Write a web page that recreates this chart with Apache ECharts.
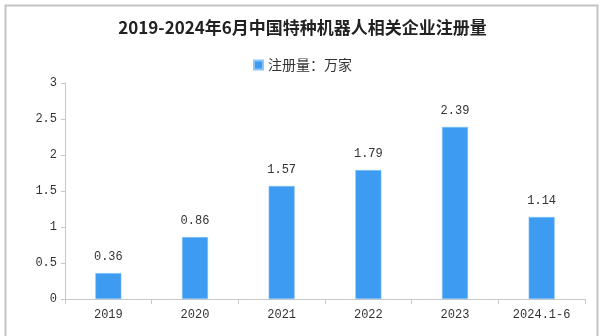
<!DOCTYPE html>
<html>
<head>
<meta charset="utf-8">
<script src="https://cdn.jsdelivr.net/npm/echarts@6/dist/echarts.min.js"></script>
<style>html,body{margin:0;padding:0;background:#fff;}#c{width:605px;height:336px;}</style>
</head>
<body>
<div id="c"></div>
<script>
const titleText = '2019-2024年6月中国特种机器人相关企业注册量';
const seriesName = '注册量：万家';
const categories = ['2019', '2020', '2021', '2022', '2023', '2024.1-6'];
const values = [0.36, 0.86, 1.57, 1.79, 2.39, 1.14];

const chart = echarts.init(document.getElementById('c'));
const mono = '"Liberation Mono", "DejaVu Sans Mono", monospace';
chart.setOption({
  animation: false,
  backgroundColor: '#fff',
  graphic: [{
    type: 'rect', left: 3, top: 3,
    shape: { width: 592, height: 345 },
    style: { fill: 'none', stroke: '#c4c4c4', lineWidth: 2 }
  }],
  title: {
    text: titleText, left: 'center', top: 14,
    textStyle: { fontFamily: '"Noto Sans CJK SC", sans-serif', fontSize: 17, fontWeight: 'bold', color: '#222' }
  },
  legend: {
    top: 53, left: 'center',
    itemWidth: 9, itemHeight: 9, itemGap: 5,
    icon: 'rect',
    textStyle: { fontFamily: '"Noto Sans CJK SC", sans-serif', fontSize: 14, color: '#333' }
  },
  grid: { left: 65, right: 20, top: 83, bottom: 37, containLabel: false },
  xAxis: {
    type: 'category', data: categories,
    axisLine: { lineStyle: { color: '#c8c8c8' } },
    axisTick: { show: true, length: 5, lineStyle: { color: '#c8c8c8' } },
    axisLabel: { fontFamily: mono, fontSize: 12, color: '#333', margin: 10 }
  },
  yAxis: {
    type: 'value', min: 0, max: 3, interval: 0.5,
    axisLine: { show: true, lineStyle: { color: '#c8c8c8' } },
    axisTick: { show: true, length: 4, lineStyle: { color: '#c8c8c8' } },
    splitLine: { show: false },
    axisLabel: { fontFamily: mono, fontSize: 12, color: '#333', margin: 8 }
  },
  series: [{
    name: seriesName, type: 'bar', data: values, barWidth: 26,
    itemStyle: { color: '#3d9cf2', borderColor: '#8cc6f7', borderWidth: 0.5 },
    label: { show: true, position: 'top', distance: 10, fontFamily: mono, fontSize: 12, color: '#333' }
  }]
});
</script>
</body>
</html>
